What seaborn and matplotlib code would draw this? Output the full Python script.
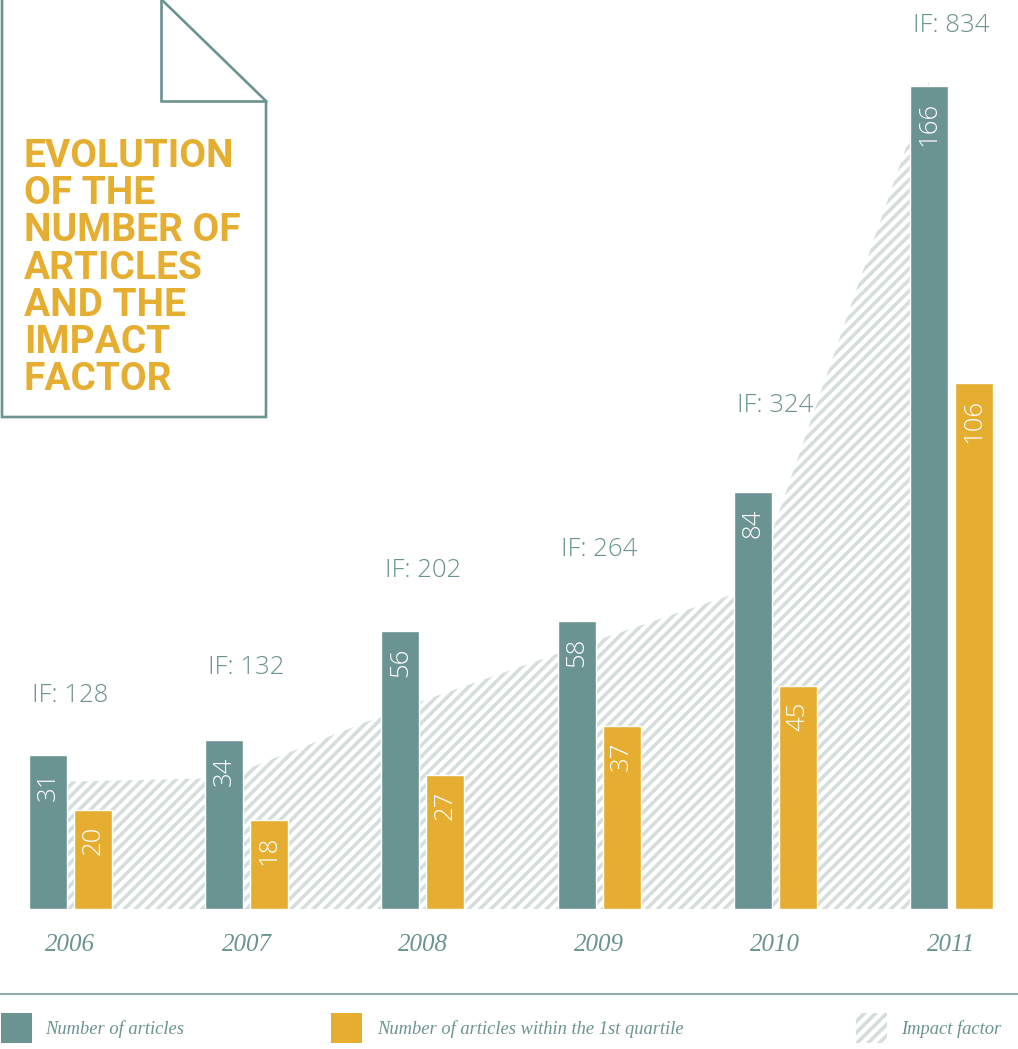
import numpy as np
import pandas as pd
import seaborn as sns
import matplotlib.pyplot as plt
from matplotlib.patches import Rectangle
from matplotlib.lines import Line2D

# data
years = ["2006", "2007", "2008", "2009", "2010", "2011"]
articles = [31, 34, 56, 58, 84, 166]
first_quartile = [20, 18, 27, 37, 45, 106]
impact_factor = [128, 132, 202, 264, 324, 834]
series_names = ["Number of articles", "Number of articles within the 1st quartile"]
title_lines = ["EVOLUTION", "OF THE", "NUMBER OF", "ARTICLES", "AND THE", "IMPACT", "FACTOR"]

# gap in pixels between the teal bar top and the "IF:" label
if_label_gap = [60, 73, 61, 72, 87, 60]

TEAL = "#6a9391"
YELLOW = "#e5ae30"
HATCH = "#d6dedd"
LIGHT = ["Open Sans", "Lato", "DejaVu Sans"]

W, H = 1018, 1049


def fx(px):
    return px / W


def fy(py):
    return 1 - py / H


sns.set_style("white")
plt.rcParams["hatch.linewidth"] = 2.6

df = pd.DataFrame({
    "year": years * 2,
    "series": [series_names[0]] * len(years) + [series_names[1]] * len(years),
    "count": articles + first_quartile,
})

fig = plt.figure(figsize=(W / 100, H / 100), dpi=100)
ax = fig.add_axes([0, fy(909), 1, 909 / H])
ax2 = ax.twinx()
ax.set_zorder(ax2.get_zorder() + 1)
ax.patch.set_visible(False)

sns.barplot(data=df, x="year", y="count", hue="series", palette=[TEAL, YELLOW],
            width=0.511, gap=0.156, saturation=1, legend=False, ax=ax)

# impact factor area behind the bars, anchored on the teal bar centres
teal_x = [p.get_x() + p.get_width() / 2 for p in ax.containers[0].patches]
ax2.fill_between(teal_x, 0, impact_factor, facecolor="white", edgecolor=HATCH,
                 hatch="///", linewidth=0)

ax.set_xlim(-0.400, 5.378)
ax.set_ylim(0, 183.3)
ax2.set_ylim(0, 916.3)

# value labels inside the bars
for cont in ax.containers:
    for p in cont.patches:
        ax.annotate(f"{p.get_height():.0f}", (p.get_x() + p.get_width() / 2, p.get_height()),
                    xytext=(0, -11.5), textcoords="offset points", rotation=90,
                    ha="center", va="top", color="white", fontsize=18.5,
                    family=LIGHT, fontweight="light")

# IF labels above each group
for i, v in enumerate(impact_factor):
    ax.annotate(f"IF: {v}", (i, articles[i]), xytext=(0, if_label_gap[i] * 0.72),
                textcoords="offset points", ha="center", va="center", color=TEAL,
                fontsize=18.5, family=LIGHT, fontweight="light")

ax.set_xticks(range(len(years)))
ax.set_xticklabels(years, fontstyle="italic", family="Liberation Serif", fontsize=18, color=TEAL)
ax.tick_params(axis="x", length=0, pad=18)
ax.set_yticks([])
ax2.set_yticks([])
ax.set_xlabel("")
ax.set_ylabel("")
for a in (ax, ax2):
    for s in a.spines.values():
        s.set_visible(False)

# folded paper title box
outline = [(2, -5), (2, 417), (266, 417), (266, 101), (161, -1)]
fold = [(161, -1), (161, 101), (266, 101)]
for pts in (outline, fold):
    fig.add_artist(Line2D([fx(p[0]) for p in pts], [fy(p[1]) for p in pts],
                          color=TEAL, lw=1.9, solid_joinstyle="miter"))

for k, line in enumerate(title_lines):
    fig.text(fx(24), fy(167 + 37.2 * k), line, ha="left", va="baseline", fontsize=28,
             fontweight="bold", family=["Roboto", "DejaVu Sans"], color=YELLOW)

# separator and legend
fig.add_artist(Line2D([0, 1], [fy(994), fy(994)], color="#93aeac", lw=1.5))

legend_items = [
    (1, TEAL, None, 45, series_names[0]),
    (331, YELLOW, None, 377, series_names[1]),
    (856, "white", "///", 901, "Impact factor"),
]
for x0, col, hatch, tx, label in legend_items:
    fig.add_artist(Rectangle((fx(x0), fy(1043)), fx(31), 30 / H, transform=fig.transFigure,
                             facecolor=col, edgecolor=HATCH if hatch else col,
                             hatch=hatch, linewidth=0))
    fig.text(fx(tx), fy(1029), label, ha="left", va="center", fontsize=13.3,
             fontstyle="italic", family="Liberation Serif", color=TEAL)

fig.savefig("out.png", dpi=100)
